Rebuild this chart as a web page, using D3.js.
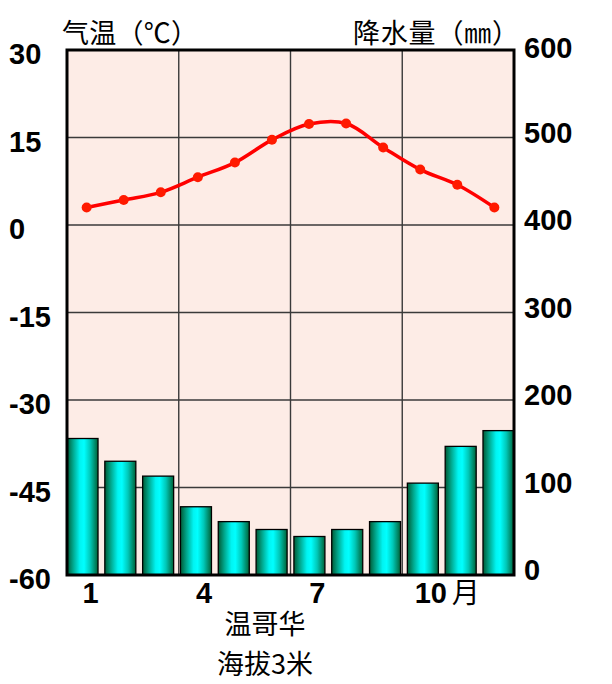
<!DOCTYPE html>
<html><head><meta charset="utf-8">
<script src="https://cdn.jsdelivr.net/npm/d3@7"></script>
<style>body{margin:0;background:#fff}svg{display:block}</style>
</head><body>
<script>
const months = [1,2,3,4,5,6,7,8,9,10,11,12];
const temperature = [3.0,4.3,5.6,8.2,10.7,14.6,17.3,17.4,13.3,9.5,6.9,3.0];
const precipitation = [156,130,113,78,61,52,44,52,61,105,147,165];
const tempTicks = [-60,-45,-30,-15,0,15,30];
const precTicks = [0,100,200,300,400,500,600];
const monthTicks = [1,4,7,10];
const tempTitle = "气温（℃）";
const precTitle = "降水量（㎜）";
const placeName = "温哥华";
const altitude = "海拔3米";
const monthUnit = "月";

const W = 612, H = 684;
const L = 67, R = 514, T = 50, B = 575;

const svg = d3.select("body").append("svg").attr("width", W).attr("height", H);

const defs = svg.append("defs");
const grad = defs.append("linearGradient").attr("id","barGrad").attr("x1","0").attr("x2","1").attr("y1","0").attr("y2","0");
[[0,"#005a34"],[0.2,"#00a88e"],[0.42,"#00f4f2"],[0.55,"#00ffff"],[0.75,"#00c8b8"],[1,"#006236"]].forEach(s=>{
  grad.append("stop").attr("offset", s[0]).attr("stop-color", s[1]);
});

const yT = d3.scaleLinear().domain([-60,30]).range([B,T]);
const yP = d3.scaleLinear().domain([0,600]).range([B,T]);
const xB = d3.scaleBand().domain(months).range([L,R]).paddingInner(0.18).paddingOuter(0);
const xP = d3.scalePoint().domain(months).range([L,R]).padding(0.53);

// background
svg.append("rect").attr("x",L).attr("y",T).attr("width",R-L).attr("height",B-T).attr("fill","#fdece6");

// grid
const grid = svg.append("g").attr("stroke","#3a3a3a").attr("stroke-width",1.4);
tempTicks.forEach(v=>{
  grid.append("line").attr("x1",L).attr("x2",R).attr("y1",yT(v)).attr("y2",yT(v));
});
const colW = (R-L)/4;
[1,2,3].forEach(i=>{
  grid.append("line").attr("x1",L+i*colW).attr("x2",L+i*colW).attr("y1",T).attr("y2",B);
});

// bars
svg.append("g").selectAll("rect").data(precipitation).join("rect")
  .attr("x",(d,i)=>xB(months[i]))
  .attr("width",xB.bandwidth())
  .attr("y",d=>yP(d))
  .attr("height",d=>yP(0)-yP(d))
  .attr("fill","url(#barGrad)")
  .attr("stroke","#000").attr("stroke-width",1.3);

// temperature line
const line = d3.line().x((d,i)=>xP(months[i])).y(d=>yT(d)).curve(d3.curveCatmullRom.alpha(0.5));
svg.append("path").datum(temperature).attr("d",line)
  .attr("fill","none").attr("stroke","#ff0000").attr("stroke-width",3.5);
svg.append("g").selectAll("circle").data(temperature).join("circle")
  .attr("cx",(d,i)=>xP(months[i])).attr("cy",d=>yT(d)).attr("r",5)
  .attr("fill","#ff1a00");

// border
svg.append("rect").attr("x",L).attr("y",T).attr("width",R-L).attr("height",B-T)
  .attr("fill","none").attr("stroke","#000").attr("stroke-width",3);

// left axis labels
const num = "'Liberation Sans', Arial, sans-serif";
svg.append("g").selectAll("text").data(tempTicks).join("text")
  .attr("x",9).attr("y",d=>yT(d)+4)
  .attr("dominant-baseline","central")
  .attr("font-family",num).attr("font-weight","bold").attr("font-size",29)
  .attr("fill","#000").text(d=>d);

// right axis labels
svg.append("g").selectAll("text").data(precTicks).join("text")
  .attr("x",524).attr("y",d=>yP(d)-(d===600?2:5))
  .attr("dominant-baseline","central")
  .attr("font-family",num).attr("font-weight","bold").attr("font-size",29)
  .attr("fill","#000").text(d=>d);

// month labels
const mg = svg.append("g");
monthTicks.forEach(m=>{
  const cx = xB(m)+xB.bandwidth()/2+8;
  mg.append("text").attr("x",cx).attr("y",593).attr("text-anchor","middle")
    .attr("dominant-baseline","central")
    .attr("font-family",num).attr("font-weight","bold").attr("font-size",29)
    .text(m);
  if(m===monthTicks[monthTicks.length-1]){
    mg.append("text").attr("x",cx+21).attr("y",591)
      .attr("dominant-baseline","central")
      .attr("font-family","'Noto Sans CJK SC', sans-serif").attr("font-size",28)
      .text(monthUnit);
  }
});

// titles
const cjk = "'Noto Sans CJK SC', sans-serif";
svg.append("text").attr("x",62).attr("y",31).attr("dominant-baseline","central")
  .attr("font-family",cjk).attr("font-size",27)
  .attr("textLength",136).attr("lengthAdjust","spacing").text(tempTitle);
svg.append("text").attr("x",353).attr("y",31).attr("dominant-baseline","central")
  .attr("font-family",cjk).attr("font-size",27)
  .attr("textLength",166).attr("lengthAdjust","spacing").text(precTitle);

svg.append("text").attr("x",265).attr("y",622).attr("text-anchor","middle").attr("dominant-baseline","central")
  .attr("font-family",cjk).attr("font-size",27).text(placeName);
svg.append("text").attr("x",265).attr("y",662).attr("text-anchor","middle").attr("dominant-baseline","central")
  .attr("font-family",cjk).attr("font-size",27).text(altitude);
</script>
</body></html>
